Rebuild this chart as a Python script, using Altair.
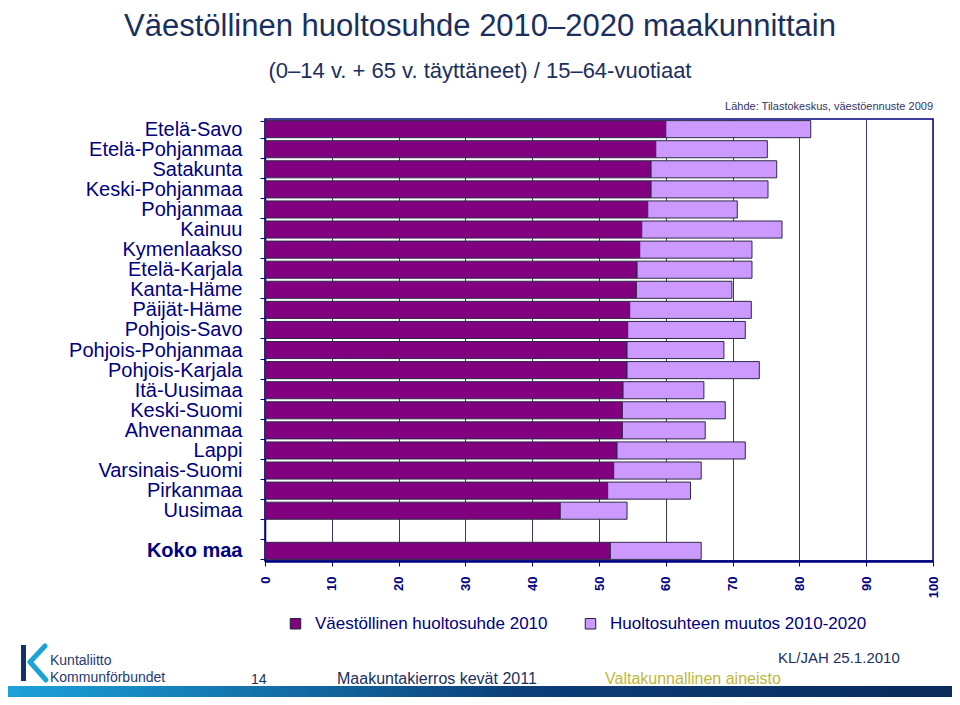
import altair as alt
import pandas as pd

regions = ["Etelä-Savo", "Etelä-Pohjanmaa", "Satakunta", "Keski-Pohjanmaa", "Pohjanmaa",
           "Kainuu", "Kymenlaakso", "Etelä-Karjala", "Kanta-Häme", "Päijät-Häme",
           "Pohjois-Savo", "Pohjois-Pohjanmaa", "Pohjois-Karjala", "Itä-Uusimaa",
           "Keski-Suomi", "Ahvenanmaa", "Lappi", "Varsinais-Suomi", "Pirkanmaa",
           "Uusimaa", "Koko maa"]
ratio_2010 = [60.0, 58.5, 57.8, 57.8, 57.3, 56.4, 56.1, 55.7, 55.6, 54.6, 54.3,
              54.2, 54.2, 53.6, 53.5, 53.5, 52.7, 52.2, 51.3, 44.2, 51.7]
ratio_2020 = [81.7, 75.2, 76.6, 75.3, 70.7, 77.4, 72.9, 72.9, 69.9, 72.8, 71.9,
              68.7, 74.0, 65.7, 68.9, 65.9, 71.9, 65.3, 63.7, 54.2, 65.3]
series = ["Väestöllinen huoltosuhde 2010", "Huoltosuhteen muutos 2010-2020"]
x_ticks = [0, 10, 20, 30, 40, 50, 60, 70, 80, 90, 100]
y_order = regions[:-1] + [" "] + ["Koko maa"]

rows = []
for r, a, b in zip(regions, ratio_2010, ratio_2020):
    rows.append({"alue": r, "sarja": series[0], "alku": 0, "loppu": a})
    rows.append({"alue": r, "sarja": series[1], "alku": a, "loppu": b})
df = pd.DataFrame(rows)

NAVY = "#000080"
TXT = "#1B2F5E"

bars = alt.Chart(df).mark_bar(stroke="#2b2b45", strokeWidth=1).encode(
    y=alt.Y("alue:N", sort=y_order,
            scale=alt.Scale(domain=y_order, paddingInner=0.15, paddingOuter=0.08),
            axis=alt.Axis(title=None, labelFontSize=20, labelColor=NAVY,
                          labelFont="Liberation Sans", labelPadding=18, labelLimit=300,
                          labelFontWeight=alt.condition("datum.value == 'Koko maa'",
                                                        alt.value("bold"), alt.value("normal")),
                          tickBand="extent", tickSize=5, tickColor=NAVY,
                          domainColor=NAVY, domainWidth=1.5, grid=False)),
    x=alt.X("alku:Q", scale=alt.Scale(domain=[0, 100], nice=False),
            axis=alt.Axis(title=None, values=x_ticks, labelAngle=270, labelFontSize=13,
                          labelFontWeight="bold", labelColor=NAVY, labelFont="Liberation Sans",
                          labelPadding=10, tickSize=5, tickColor=NAVY,
                          domainColor=NAVY, domainWidth=2.5,
                          grid=True, gridColor="#3a3a6a", gridWidth=1, gridOpacity=1)),
    x2="loppu:Q",
    color=alt.Color("sarja:N", sort=series,
                    scale=alt.Scale(domain=series, range=["#800080", "#CC99FF"]),
                    legend=alt.Legend(title=None, orient="none", direction="horizontal",
                                      legendX=22, legendY=496, padding=0,
                                      symbolType="square", symbolSize=110,
                                      symbolStrokeColor="#222233", symbolStrokeWidth=1,
                                      symbolOpacity=1,
                                      labelFontSize=17, labelColor=NAVY,
                                      labelFont="Liberation Sans", labelOffset=11,
                                      columnPadding=34, labelLimit=400)),
)

OX, OY = 265, 119  # plot origin on the page


def txt(s, x, y, size, color=TXT, align="left", weight="normal", font="Liberation Sans",
        baseline="alphabetic"):
    return alt.Chart(alt.Data(values=[{}])).mark_text(
        align=align, baseline=baseline, fontSize=size, color=color,
        fontWeight=weight, font=font
    ).encode(x=alt.value(x - OX), y=alt.value(y - OY), text=alt.value(s))


def rule(x1, y1, x2, y2, color, w):
    return alt.Chart(alt.Data(values=[{}])).mark_rule(color=color, strokeWidth=w, strokeCap="round").encode(
        x=alt.value(x1 - OX), y=alt.value(y1 - OY), x2=alt.value(x2 - OX), y2=alt.value(y2 - OY))


gradient = alt.Gradient(gradient="linear",
                        stops=[alt.GradientStop(color="#1CA3DA", offset=0),
                               alt.GradientStop(color="#0C3E78", offset=0.55),
                               alt.GradientStop(color="#0A2A5A", offset=1)],
                        x1=0, x2=1, y1=0, y2=0)
band = alt.Chart(alt.Data(values=[{}])).mark_rect(color=gradient).encode(
    x=alt.value(0 - OX), x2=alt.value(960 - OX), y=alt.value(686 - OY), y2=alt.value(705 - OY))

stem = alt.Chart(alt.Data(values=[{}])).mark_rect(color="#12306A").encode(
    x=alt.value(21 - OX), x2=alt.value(26 - OX), y=alt.value(645 - OY), y2=alt.value(681 - OY))

layers = [
    bars,
    txt("Väestöllinen huoltosuhde 2010–2020 maakunnittain", 480, 12, 31, align="center",
        baseline="top"),
    txt("(0–14 v. + 65 v. täyttäneet) / 15–64-vuotiaat", 480, 78, 22, align="center"),
    txt("Lähde: Tilastokeskus, väestöennuste 2009", 933, 110, 11, color="#333366", align="right"),
    band,
    stem,
    rule(45, 646, 30, 662, "#1BA3D6", 5),
    rule(30, 662, 46, 680, "#1BA3D6", 5),
    txt("Kuntaliitto", 50, 665, 14, color="#1F3A70"),
    txt("Kommunförbundet", 50, 682, 14, color="#1F3A70"),
    txt("14", 251, 684, 14),
    txt("Maakuntakierros kevät 2011", 337, 684, 16),
    txt("Valtakunnallinen aineisto", 605, 684, 16, color="#BDB83A"),
    txt("KL/JAH 25.1.2010", 778, 663, 15),
]

chart = alt.layer(*layers).properties(
    width=668, height=442,
    padding={"left": 257, "top": 111, "right": 19, "bottom": 136},
    autosize=alt.AutoSizeParams(type="none"),
    background="white",
).configure_view(stroke=NAVY, strokeWidth=1.5)

chart.save("out.html", embed_options={"renderer": "svg", "actions": False})
